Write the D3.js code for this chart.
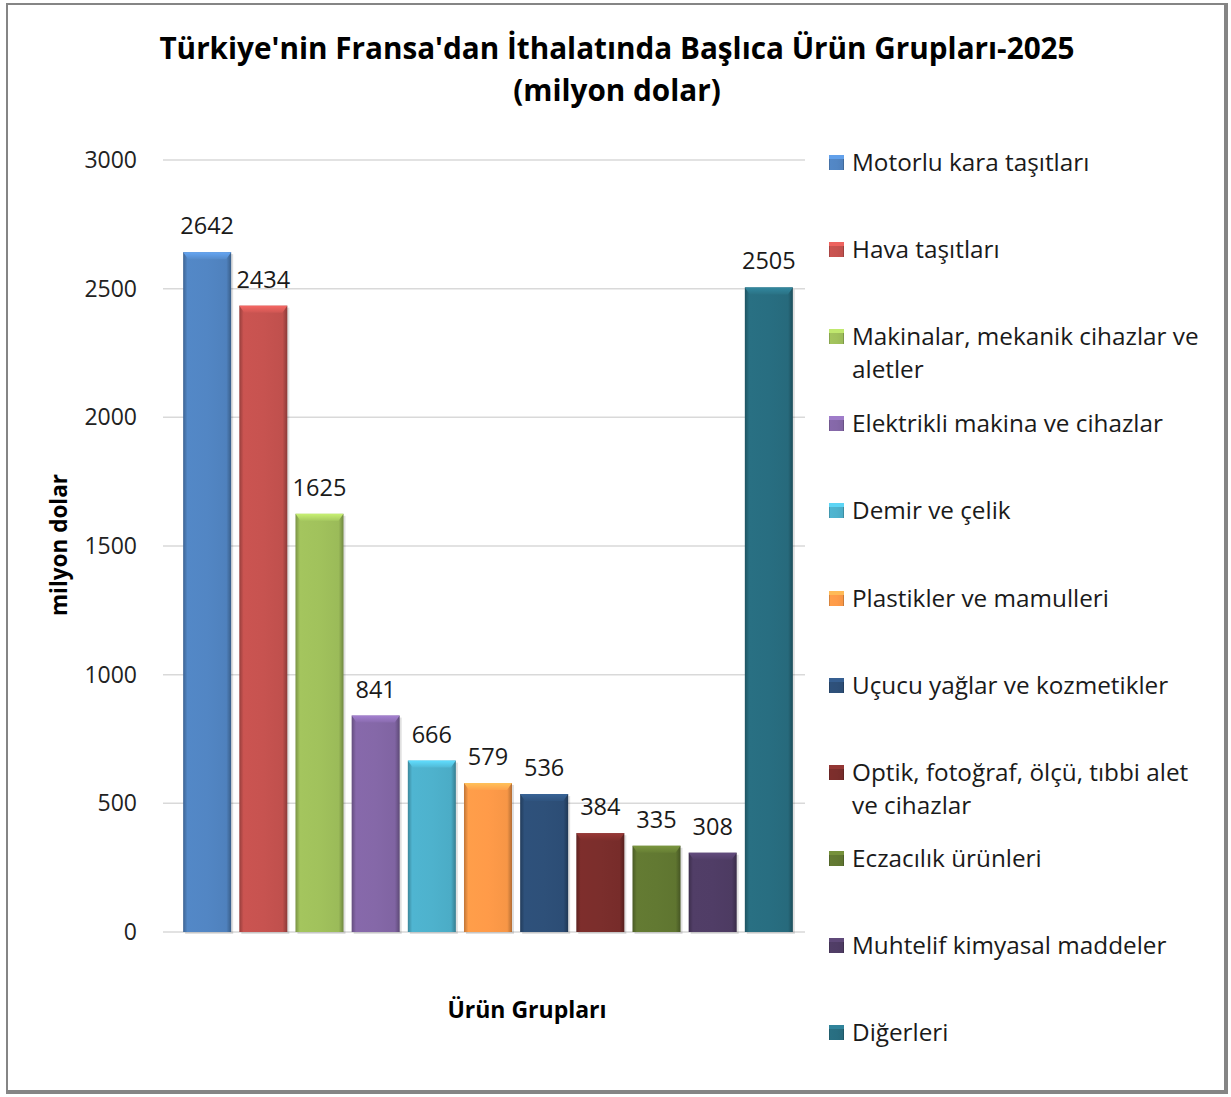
<!DOCTYPE html>
<html>
<head>
<meta charset="utf-8">
<script src="https://cdn.jsdelivr.net/npm/d3@7"></script>
<style>
  body { margin: 0; background: #fff; }
  text { font-family: "Open Sans", "DejaVu Sans", sans-serif; }
</style>
</head>
<body>
<div id="chart"></div>
<script>
// Product groups and values (million USD)
var categories = [
    "Motorlu kara taşıtları",
    "Hava taşıtları",
    "Makinalar, mekanik cihazlar ve aletler",
    "Elektrikli makina ve cihazlar",
    "Demir ve çelik",
    "Plastikler ve mamulleri",
    "Uçucu yağlar ve kozmetikler",
    "Optik, fotoğraf, ölçü, tıbbi alet ve cihazlar",
    "Eczacılık ürünleri",
    "Muhtelif kimyasal maddeler",
    "Diğerleri"
];
var values = [2642, 2434, 1625, 841, 666, 579, 536, 384, 335, 308, 2505];
var yTicks = [0, 500, 1000, 1500, 2000, 2500, 3000];
// legend lines where the label wraps
var legendLines = [
    ["Motorlu kara taşıtları"],
    ["Hava taşıtları"],
    ["Makinalar, mekanik cihazlar ve", "aletler"],
    ["Elektrikli makina ve cihazlar"],
    ["Demir ve çelik"],
    ["Plastikler ve mamulleri"],
    ["Uçucu yağlar ve kozmetikler"],
    ["Optik, fotoğraf, ölçü, tıbbi alet", "ve cihazlar"],
    ["Eczacılık ürünleri"],
    ["Muhtelif kimyasal maddeler"],
    ["Diğerleri"]
];
var colors = ["#4F81BD", "#C0504D", "#9BBB59", "#8064A2", "#4BACC6", "#F79646",
              "#2C4D75", "#772C2A", "#5F7530", "#4D3B62", "#276A7C"];

var W = 1231, H = 1097;
var svg = d3.select("#chart").append("svg")
    .attr("width", W).attr("height", H);

var defs = svg.append("defs");

// Frame with a gray shadow border
svg.append("rect").attr("x", 6).attr("y", 3).attr("width", 1222).attr("height", 1091)
    .attr("fill", "#858585");
svg.append("rect").attr("x", 8).attr("y", 5).attr("width", 1216).attr("height", 1085)
    .attr("fill", "#fff");

// Title
svg.append("text").attr("x", 617).attr("y", 59).attr("text-anchor", "middle")
    .attr("font-size", 29.7).attr("font-weight", "bold").attr("fill", "#000")
    .text("Türkiye'nin Fransa'dan İthalatında Başlıca Ürün Grupları-2025");
svg.append("text").attr("x", 617).attr("y", 101).attr("text-anchor", "middle")
    .attr("font-size", 29.7).attr("font-weight", "bold").attr("fill", "#000")
    .text("(milyon dolar)");

var y = d3.scaleLinear().domain([0, 3000]).range([932, 160]);
var x = d3.scaleBand().domain(categories).range([175, 801]).padding(0.145);

// Gridlines
svg.append("g").selectAll("line").data(yTicks).join("line")
    .attr("x1", 163).attr("x2", 805)
    .attr("y1", d => y(d)).attr("y2", d => y(d))
    .attr("stroke", "#d9d9d9").attr("stroke-width", 1.5);

// Y axis labels
var yAxis = svg.append("g").attr("transform", "translate(137,0)")
    .call(d3.axisLeft(y).tickValues(yTicks).tickFormat(d3.format("d")).tickSize(0).tickPadding(0));
yAxis.select(".domain").remove();
yAxis.selectAll("text").attr("font-size", 23).attr("fill", "#222")
    .attr("font-family", "'Open Sans', sans-serif");

svg.append("text").attr("transform", "translate(67,545) rotate(-90)")
    .attr("text-anchor", "middle").attr("font-size", 22.5).attr("font-weight", "bold")
    .text("milyon dolar");

svg.append("text").attr("x", 527).attr("y", 1018).attr("text-anchor", "middle")
    .attr("font-size", 23).attr("font-weight", "bold")
    .text("Ürün Grupları");

// Gradients for bevelled bars
colors.forEach(function (c, i) {
    var g = defs.append("linearGradient").attr("id", "bg" + i)
        .attr("x1", "0%").attr("x2", "100%").attr("y1", "0%").attr("y2", "0%");
    var base = d3.color(c);
    g.append("stop").attr("offset", "0%").attr("stop-color", base.darker(0.7));
    g.append("stop").attr("offset", "9%").attr("stop-color", base.brighter(0.15));
    g.append("stop").attr("offset", "50%").attr("stop-color", base.brighter(0.1));
    g.append("stop").attr("offset", "90%").attr("stop-color", base);
    g.append("stop").attr("offset", "100%").attr("stop-color", base.darker(0.9));
    var t = defs.append("linearGradient").attr("id", "tg" + i)
        .attr("x1", "0%").attr("x2", "0%").attr("y1", "0%").attr("y2", "100%");
    t.append("stop").attr("offset", "0%").attr("stop-color", base.brighter(0.7));
    t.append("stop").attr("offset", "100%").attr("stop-color", base.brighter(0.2));
});

var bars = svg.append("g").selectAll("g").data(values).join("g");

// soft shadow
bars.append("rect")
    .attr("x", (d, i) => x(categories[i]) + 2)
    .attr("y", d => y(d) + 2)
    .attr("width", x.bandwidth())
    .attr("height", d => y(0) - y(d))
    .attr("fill", "#000").attr("opacity", 0.12);

bars.append("rect")
    .attr("x", (d, i) => x(categories[i]))
    .attr("y", d => y(d))
    .attr("width", x.bandwidth())
    .attr("height", d => y(0) - y(d))
    .attr("fill", (d, i) => "url(#bg" + i + ")");

// top bevel
bars.append("path")
    .attr("d", function (d, i) {
        var x0 = x(categories[i]), x1 = x0 + x.bandwidth(), t = y(d);
        return "M" + x0 + "," + t + "L" + x1 + "," + t + "L" + (x1 - 5) + "," + (t + 7)
            + "L" + (x0 + 5) + "," + (t + 7) + "Z";
    })
    .attr("fill", (d, i) => "url(#tg" + i + ")");

// value labels
bars.append("text")
    .attr("x", (d, i) => x(categories[i]) + x.bandwidth() / 2)
    .attr("y", d => y(d) - 18)
    .attr("text-anchor", "middle")
    .attr("font-size", 23.5).attr("fill", "#1a1a1a")
    .text(d => d);

// Legend
var legendY = [163, 250, 337, 424, 511, 599, 686, 773, 859, 946, 1033];
var leg = svg.append("g").selectAll("g").data(legendLines).join("g")
    .attr("transform", (d, i) => "translate(829," + legendY[i] + ")");
leg.append("rect").attr("x", 0).attr("y", -8).attr("width", 15).attr("height", 15)
    .attr("fill", (d, i) => "url(#bg" + i + ")");
leg.append("rect").attr("x", 0).attr("y", -8).attr("width", 15).attr("height", 4)
    .attr("fill", (d, i) => d3.color(colors[i]).brighter(0.6));
leg.each(function (lines) {
    var t = d3.select(this).append("text").attr("x", 23).attr("y", 8)
        .attr("font-size", 24.3).attr("fill", "#1a1a1a");
    lines.forEach(function (l, k) {
        t.append("tspan").attr("x", 23).attr("dy", k === 0 ? 0 : 33).text(l);
    });
});
</script>
</body>
</html>
